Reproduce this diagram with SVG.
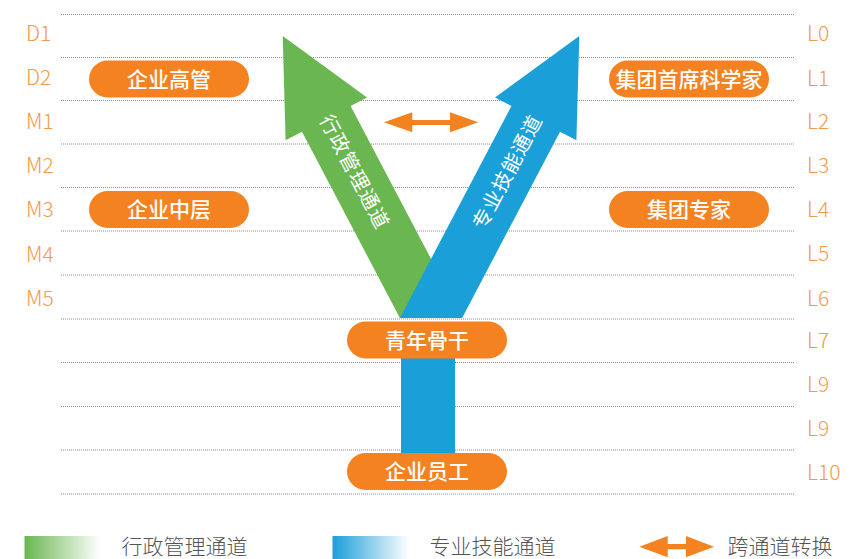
<svg xmlns="http://www.w3.org/2000/svg" width="861" height="559" viewBox="0 0 861 559">
<style>
.grid line{stroke:#8c8c8c;stroke-width:1;stroke-dasharray:1 1}
.lvl{font-family:"Noto Sans CJK SC","Noto Sans",sans-serif;font-size:21px;fill:#F39A4A;font-weight:300}
.pill rect{fill:#F58220}
.pill text{font-family:"Noto Sans CJK SC","Noto Sans",sans-serif;font-size:21px;fill:#ffffff;text-anchor:middle;font-weight:500}
.ch{font-family:"Noto Sans CJK SC","Noto Sans",sans-serif;font-size:20px;fill:#ffffff;text-anchor:middle;letter-spacing:1px}
.leg{font-family:"Noto Sans CJK SC","Noto Sans",sans-serif;font-size:21px;fill:#555555;font-weight:300}
.orange{fill:#F58220}
</style>
<defs>
<linearGradient id="gG" x1="0" y1="0" x2="1" y2="0">
<stop offset="0" stop-color="#6AB650"/>
<stop offset="1" stop-color="#6AB650" stop-opacity="0"/>
</linearGradient>
<linearGradient id="gB" x1="0" y1="0" x2="1" y2="0">
<stop offset="0" stop-color="#1A9FD9"/>
<stop offset="1" stop-color="#1A9FD9" stop-opacity="0"/>
</linearGradient>
</defs>
<rect width="861" height="559" fill="#ffffff"/>
<g class="grid" id="grid">
<line x1="61" y1="14.5" x2="795" y2="14.5"/>
<line x1="61" y1="57.5" x2="795" y2="57.5"/>
<line x1="61" y1="100.5" x2="795" y2="100.5"/>
<line x1="61" y1="144" x2="795" y2="144"/>
<line x1="61" y1="187.5" x2="795" y2="187.5"/>
<line x1="61" y1="231" x2="795" y2="231"/>
<line x1="61" y1="275" x2="795" y2="275"/>
<line x1="61" y1="319" x2="795" y2="319"/>
<line x1="61" y1="362.5" x2="795" y2="362.5"/>
<line x1="61" y1="406.5" x2="795" y2="406.5"/>
<line x1="61" y1="450" x2="795" y2="450"/>
<line x1="61" y1="494" x2="795" y2="494"/>
</g>
<g id="left-levels" class="lvl">
<text x="26" y="41">D1</text>
<text x="26" y="85">D2</text>
<text x="26" y="128.5">M1</text>
<text x="26" y="173">M2</text>
<text x="26" y="216.5">M3</text>
<text x="26" y="261.5">M4</text>
<text x="26" y="305.5">M5</text>
</g>
<g id="right-levels" class="lvl">
<text x="807" y="41">L0</text>
<text x="807" y="85.5">L1</text>
<text x="807" y="129">L2</text>
<text x="807" y="172.5">L3</text>
<text x="807" y="216.5">L4</text>
<text x="807" y="260.5">L5</text>
<text x="807" y="305.5">L6</text>
<text x="807" y="348">L7</text>
<text x="807" y="391.5">L9</text>
<text x="807" y="435.5">L9</text>
<text x="807" y="480">L10</text>
</g>
<g id="admin-channel">
<polygon fill="#6AB650" points="399.9,318 302,131.7 285.6,140.3 282.7,36 367,97.5 350.6,106.1 462.1,318"/>
<text class="ch" transform="translate(354.5,172) rotate(62.3)" y="7">行政管理通道</text>
</g>
<g id="trunk">
<rect x="401" y="330" width="54" height="140" fill="#1A9FD9"/>
</g>
<g id="tech-channel">
<polygon fill="#1A9FD9" points="462.1,318 560,131.7 576.4,140.3 579.3,36 495,97.5 511.4,106.1 399.9,318"/>
<text class="ch" transform="translate(507.5,172) rotate(-62.3)" y="7">专业技能通道</text>
</g>
<g id="connectors">
<polygon class="orange" points="384,122.3 412.3,112.3 412.3,120 450,120 450,112.3 478.3,122.3 450,132.3 450,125 412.3,125 412.3,132.3"/>
</g>
<g id="node-senior-mgmt" class="pill">
<rect x="89" y="60.5" width="160" height="37" rx="18.5"/>
<text x="169" y="86.5">企业高管</text>
</g>
<g id="node-middle-mgmt" class="pill">
<rect x="89" y="191" width="160" height="37" rx="18.5"/>
<text x="169" y="217">企业中层</text>
</g>
<g id="node-chief-scientist" class="pill">
<rect x="609" y="60.5" width="160" height="37" rx="18.5"/>
<text x="689" y="86.5">集团首席科学家</text>
</g>
<g id="node-group-expert" class="pill">
<rect x="609" y="191" width="160" height="37" rx="18.5"/>
<text x="689" y="217">集团专家</text>
</g>
<g id="node-backbone" class="pill">
<rect x="347" y="321.5" width="160" height="37" rx="18.5"/>
<text x="427" y="347.5">青年骨干</text>
</g>
<g id="node-staff" class="pill">
<rect x="347" y="453" width="160" height="37" rx="18.5"/>
<text x="427" y="479">企业员工</text>
</g>
<g id="legend">
<rect x="24.5" y="536" width="76" height="23" fill="url(#gG)"/>
<text class="leg" x="121.5" y="553.5">行政管理通道</text>
<rect x="332.5" y="536" width="77" height="23" fill="url(#gB)"/>
<text class="leg" x="429.5" y="553.5">专业技能通道</text>
<polygon class="orange" points="639.3,546.7 667.7,536 667.7,544 686,544 686,536 714,546.7 686,557.3 686,549.3 667.7,549.3 667.7,557.3"/>
<text class="leg" x="727.5" y="553.5">跨通道转换</text>
</g>
</svg>
